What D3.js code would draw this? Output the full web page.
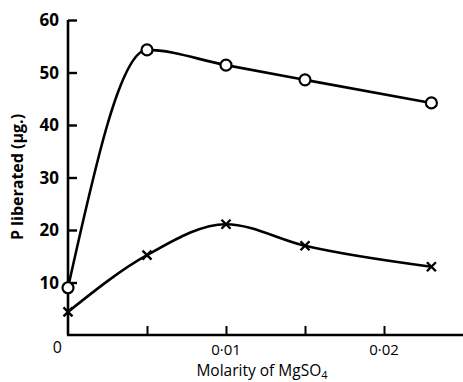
<!DOCTYPE html>
<html><head><meta charset="utf-8">
<script src="https://cdn.jsdelivr.net/npm/d3@7"></script>
<style>body{margin:0;background:#fff}</style>
</head><body>
<script>
const molarity = [0, 0.005, 0.01, 0.015, 0.023];
const circleSeries = [9, 54.3, 51.4, 48.6, 44.2];
const crossSeries = [4.4, 15.2, 21.1, 17, 13];
const yTicks = [10, 20, 30, 40, 50, 60];
const xTicks = [0.005, 0.01, 0.015, 0.02];
const xTickLabels = ["", "0·01", "", "0·02"];
const originLabel = "0";

const W = 463, H = 382;
const svg = d3.select("body").append("svg").attr("width", W).attr("height", H);
const x = d3.scaleLinear().domain([0, 0.025]).range([68, 463]);
const y = d3.scaleLinear().domain([0, 60]).range([335, 20]);
const font = "'Open Sans', 'DejaVu Sans', sans-serif";

// y axis
const ya = svg.append("g").attr("transform", "translate(68,0)")
  .call(d3.axisRight(y).tickValues(yTicks).tickSize(9).tickSizeOuter(0).tickFormat(""));
ya.select(".domain").attr("stroke-width", 2.6).attr("d", "M0,335V20");
ya.selectAll(".tick line").attr("stroke-width", 2.4);
yTicks.forEach(v => {
  svg.append("text").attr("x", 59).attr("y", y(v)).attr("dy", "0.36em")
    .attr("text-anchor", "end").attr("font-family", font).attr("font-weight", "bold")
    .attr("font-size", 17).text(v);
});

// x axis
const xa = svg.append("g").attr("transform", "translate(0,335)")
  .call(d3.axisTop(x).tickValues(xTicks).tickSize(9).tickSizeOuter(0).tickFormat(""));
xa.select(".domain").attr("stroke-width", 2.6).attr("d", "M67,0H463");
xa.selectAll(".tick line").attr("stroke-width", 2);
xTicks.forEach((v, i) => {
  if (!xTickLabels[i]) return;
  svg.append("text").attr("x", x(v)).attr("y", 355).attr("text-anchor", "middle")
    .attr("font-family", font).attr("font-size", 15).text(xTickLabels[i]);
});
svg.append("text").attr("x", 62).attr("y", 353).attr("text-anchor", "end")
  .attr("font-family", font).attr("font-size", 16).text(originLabel);

// axis titles
const xt = svg.append("text").attr("x", 262).attr("y", 376).attr("text-anchor", "middle")
  .attr("font-family", font).attr("font-size", 15.5);
xt.append("tspan").text("Molarity of MgSO");
xt.append("tspan").attr("font-size", 11).attr("dy", 3).text("4");
svg.append("text").attr("transform", "translate(23,177) rotate(-90)").attr("text-anchor", "middle")
  .attr("font-family", font).attr("font-weight", "bold").attr("font-size", 16)
  .text("P liberated (μg.)");

// lines
const line = d3.line().x(d => x(d[0])).y(d => y(d[1])).curve(d3.curveMonotoneX);
const cData = molarity.map((m, i) => [m, circleSeries[i]]);
const xData = molarity.map((m, i) => [m, crossSeries[i]]);
svg.append("path").attr("d", line(cData)).attr("fill", "none").attr("stroke", "#000").attr("stroke-width", 2.6);
svg.append("path").attr("d", line(xData)).attr("fill", "none").attr("stroke", "#000").attr("stroke-width", 2.6);

svg.selectAll("circle.pt").data(cData).enter().append("circle")
  .attr("cx", d => x(d[0])).attr("cy", d => y(d[1])).attr("r", 5.5)
  .attr("fill", "#fff").attr("stroke", "#000").attr("stroke-width", 2.2);

const s = 4.5;
svg.selectAll("path.cross").data(xData).enter().append("path")
  .attr("d", d => { const cx = x(d[0]), cy = y(d[1]);
    return `M${cx-s},${cy-s}L${cx+s},${cy+s}M${cx-s},${cy+s}L${cx+s},${cy-s}`; })
  .attr("stroke", "#000").attr("stroke-width", 2.4).attr("fill", "none");
</script>
</body></html>
